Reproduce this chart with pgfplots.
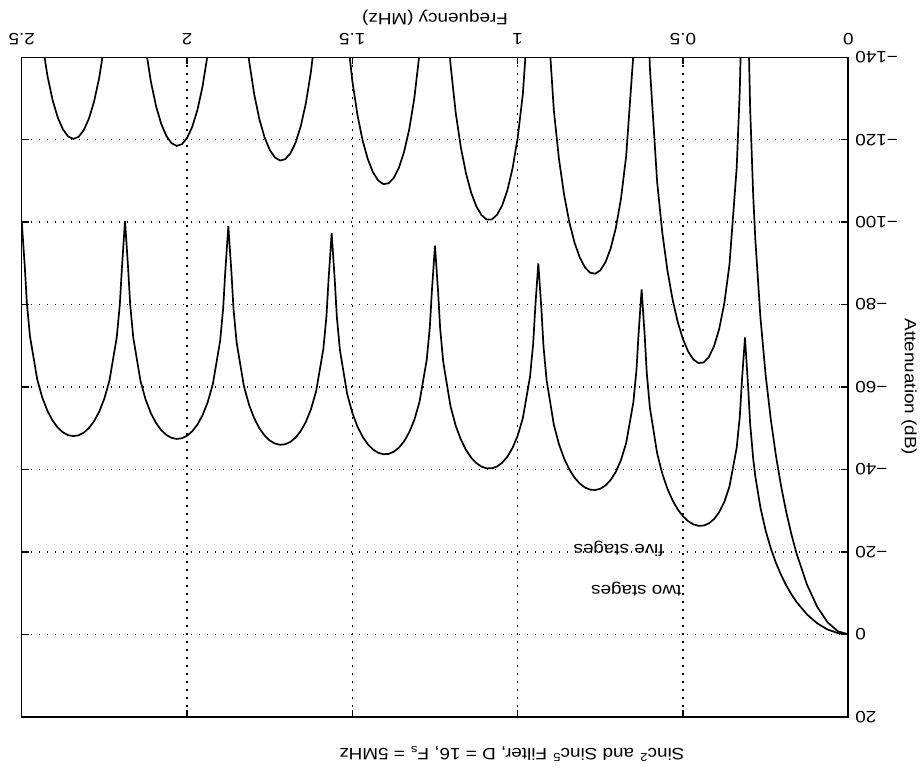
\documentclass[border=0pt]{standalone}
\usepackage{fontspec}
\setmainfont{Liberation Sans}[FakeStretch=1.15]
\usepackage{pgfplots}
\pgfplotsset{compat=1.18}
\usepackage{pgfplotstable}

% two-stage (sinc^2) response, frequency in MHz, attenuation in dB
\pgfplotstableread{
f db
0 0
0.03125 -0.29
0.0625 -1.15
0.09375 -2.64
0.125 -4.82
0.15625 -7.82
0.171875 -9.68
0.1875 -11.84
0.203125 -14.36
0.21875 -17.32
0.234375 -20.85
0.25 -25.17
0.265625 -30.70
0.28125 -38.37
0.2875 -42.52
0.296875 -51.12
0.303125 -60.31
0.3125 -72.0
0.321875 -61.33
0.328125 -52.84
0.3375 -45.27
0.359375 -35.88
0.375 -32.12
0.390625 -29.61
0.40625 -27.94
0.421875 -26.90
0.4375 -26.38
0.453125 -26.32
0.46875 -26.68
0.484375 -27.45
0.5 -28.64
0.515625 -30.28
0.53125 -32.46
0.546875 -35.28
0.5625 -38.97
0.578125 -43.91
0.6 -54.98
0.609375 -63.29
0.615625 -72.28
0.625 -83.7
0.634375 -72.78
0.640625 -64.11
0.65 -56.30
0.671875 -46.38
0.6875 -42.27
0.703125 -39.42
0.71875 -37.44
0.734375 -36.11
0.75 -35.32
0.765625 -34.99
0.78125 -35.10
0.796875 -35.63
0.8125 -36.60
0.828125 -38.03
0.84375 -40.00
0.859375 -42.63
0.875 -46.12
0.890625 -50.88
0.9125 -61.71
0.921875 -69.92
0.928125 -78.85
0.9375 -90.0
0.946875 -79.16
0.953125 -70.43
0.9625 -62.53
0.984375 -52.41
1.0 -48.16
1.015625 -45.19
1.03125 -43.07
1.046875 -41.62
1.0625 -40.71
1.078125 -40.27
1.09375 -40.26
1.109375 -40.68
1.125 -41.54
1.140625 -42.87
1.15625 -44.74
1.171875 -47.27
1.1875 -50.66
1.203125 -55.34
1.225 -66.04
1.234375 -74.20
1.240625 -83.10
1.25 -94.3
1.259375 -83.30
1.265625 -74.54
1.275 -66.59
1.296875 -56.36
1.3125 -52.03
1.328125 -48.98
1.34375 -46.79
1.359375 -45.26
1.375 -44.28
1.390625 -43.77
1.40625 -43.69
1.421875 -44.05
1.4375 -44.84
1.453125 -46.10
1.46875 -47.91
1.484375 -50.38
1.5 -53.71
1.515625 -58.32
1.5375 -68.95
1.546875 -77.07
1.553125 -85.94
1.5625 -97.3
1.571875 -86.08
1.578125 -77.30
1.5875 -69.31
1.609375 -59.01
1.625 -54.62
1.640625 -51.52
1.65625 -49.28
1.671875 -47.70
1.6875 -46.67
1.703125 -46.11
1.71875 -45.98
1.734375 -46.29
1.75 -47.03
1.765625 -48.25
1.78125 -50.01
1.796875 -52.43
1.8125 -55.72
1.828125 -60.29
1.85 -70.85
1.859375 -78.94
1.865625 -87.80
1.875 -99.0
1.884375 -87.89
1.890625 -79.09
1.9 -71.07
1.921875 -60.71
1.9375 -56.29
1.953125 -53.14
1.96875 -50.86
1.984375 -49.24
2.0 -48.16
2.015625 -47.56
2.03125 -47.40
2.046875 -47.67
2.0625 -48.37
2.078125 -49.55
2.09375 -51.27
2.109375 -53.66
2.125 -56.91
2.140625 -61.44
2.1625 -71.95
2.171875 -80.02
2.178125 -88.86
2.1875 -100.3
2.196875 -88.90
2.203125 -80.09
2.2125 -72.05
2.234375 -61.64
2.25 -57.18
2.265625 -54.00
2.28125 -51.68
2.296875 -50.03
2.3125 -48.91
2.328125 -48.28
2.34375 -48.08
2.359375 -48.31
2.375 -48.98
2.390625 -50.13
2.40625 -51.82
2.421875 -54.16
2.4375 -57.38
2.453125 -61.88
2.475 -72.34
2.484375 -80.39
2.490625 -89.22
2.5 -100.3
}\twostage

% five-stage (sinc^5) response; the notches run off the top of the axis
\pgfplotstableread{
f db
0 0
0.03125 -0.71
0.0625 -2.89
0.09375 -6.61
0.125 -12.06
0.15625 -19.54
0.171875 -24.20
0.1875 -29.61
0.203125 -35.90
0.21875 -43.30
0.234375 -52.12
0.25 -62.92
0.265625 -76.75
0.28125 -95.91
0.2875 -106.29
0.296875 -127.80
0.303125 -150.77
0.321875 -153.3
0.328125 -132.1
0.3375 -113.2
0.359375 -89.71
0.375 -80.31
0.390625 -74.02
0.40625 -69.85
0.421875 -67.25
0.4375 -65.96
0.453125 -65.80
0.46875 -66.70
0.484375 -68.62
0.5 -71.60
0.515625 -75.71
0.53125 -81.16
0.546875 -88.21
0.5625 -97.42
0.578125 -109.77
0.6 -137.4
0.609375 -158.2
0.615625 -180.7
0.634375 -181.9
0.640625 -160.3
0.65 -140.7
0.671875 -115.96
0.6875 -105.68
0.703125 -98.56
0.71875 -93.61
0.734375 -90.28
0.75 -88.30
0.765625 -87.49
0.78125 -87.75
0.796875 -89.08
0.8125 -91.49
0.828125 -95.07
0.84375 -100.01
0.859375 -106.57
0.875 -115.30
0.890625 -127.2
0.9125 -154.3
0.921875 -174.8
0.928125 -197.1
0.946875 -197.9
0.953125 -176.1
0.9625 -156.3
0.984375 -131.0
1.0 -120.41
1.015625 -112.97
1.03125 -107.69
1.046875 -104.05
1.0625 -101.77
1.078125 -100.67
1.09375 -100.65
1.109375 -101.71
1.125 -103.85
1.140625 -107.17
1.15625 -111.85
1.171875 -118.17
1.1875 -126.66
1.203125 -138.34
1.225 -165.1
1.234375 -185.5
1.240625 -207.7
1.259375 -208.3
1.265625 -186.4
1.275 -166.5
1.296875 -140.9
1.3125 -130.08
1.328125 -122.44
1.34375 -116.98
1.359375 -113.16
1.375 -110.70
1.390625 -109.42
1.40625 -109.23
1.421875 -110.12
1.4375 -112.10
1.453125 -115.26
1.46875 -119.78
1.484375 -125.95
1.5 -134.28
1.515625 -145.8
1.5375 -172.4
1.546875 -192.7
1.553125 -214.9
1.571875 -215.2
1.578125 -193.2
1.5875 -173.3
1.609375 -147.5
1.625 -136.56
1.640625 -128.80
1.65625 -123.20
1.671875 -119.26
1.6875 -116.67
1.703125 -115.27
1.71875 -114.96
1.734375 -115.72
1.75 -117.58
1.765625 -120.63
1.78125 -125.03
1.796875 -131.08
1.8125 -139.30
1.828125 -150.7
1.85 -177.1
1.859375 -197.4
1.865625 -219.5
1.884375 -219.7
1.890625 -197.7
1.9 -177.7
1.921875 -151.8
1.9375 -140.72
1.953125 -132.85
1.96875 -127.15
1.984375 -123.10
2.0 -120.41
2.015625 -118.91
2.03125 -118.50
2.046875 -119.17
2.0625 -120.93
2.078125 -123.88
2.09375 -128.19
2.109375 -134.14
2.125 -142.27
2.140625 -153.6
2.1625 -179.9
2.171875 -200.1
2.178125 -222.2
2.196875 -222.3
2.203125 -200.2
2.2125 -180.1
2.234375 -154.1
2.25 -142.95
2.265625 -134.99
2.28125 -129.21
2.296875 -125.07
2.3125 -122.29
2.328125 -120.69
2.34375 -120.20
2.359375 -120.78
2.375 -122.46
2.390625 -125.32
2.40625 -129.54
2.421875 -135.41
2.4375 -143.46
2.453125 -154.7
2.475 -180.8
2.484375 -201.0
2.490625 -223.0
}\fivestage

\newcommand{\lbl}{\fontsize{8.2}{9.8}\selectfont}

\begin{document}
\begin{tikzpicture}
\begin{axis}[
 name=ax, scale only axis, width=413.3pt, height=329.7pt,
 x dir=reverse, y dir=reverse,
 xmin=0, xmax=2.5, ymin=-140, ymax=20,
 xtick={0,0.5,1,1.5,2,2.5}, xticklabels={0,0.5,1,1.5,2,2.5},
 ytick={-140,-120,-100,-80,-60,-40,-20,0,20},
 yticklabels={−140,−120,−100,−80,−60,−40,−20,0,20},
 xticklabel pos=upper, yticklabel pos=upper,
 tick align=inside, major tick length=3.5pt,
 tick style={black, line width=0.7pt},
 axis line style={black, line width=0.8pt},
 grid=major, grid style={black, line width=0.7pt, dash pattern=on 0.7pt off 3.3pt},
 x tick label style={font=\lbl, rotate=180, anchor=north, inner sep=0pt},
 y tick label style={font=\lbl, rotate=180, anchor=east, inner sep=0pt},
 xticklabel shift=6.15pt, yticklabel shift=3.35pt,
 every axis x label/.style={at={(axis description cs:0.5,1)}, anchor=base, yshift=22pt, rotate=180, font=\lbl},
 every axis y label/.style={at={(axis description cs:1,0.5)}, anchor=base, xshift=28.3pt, rotate=-90, font=\lbl},
 every axis title/.style={at={(axis description cs:0.593,0)}, anchor=base, yshift=-15.8pt, rotate=180, font=\lbl},
 xlabel={Frequency (MHz)}, ylabel={Attenuation (dB)},
 title={Sinc\textsuperscript{2} and Sinc\textsuperscript{5} Filter, D = 16, F\textsubscript{s} = 5MHz},
]
\addplot[black, line width=0.85pt] table[x=f, y=db] {\twostage};
\addplot[black, line width=0.85pt] table[x=f, y=db] {\fivestage};
\node[font=\lbl, rotate=180, anchor=base west, inner sep=0pt] at (axis cs:0.504,-11.8) {two stages};
\node[font=\lbl, rotate=180, anchor=base west, inner sep=0pt] at (axis cs:0.557,-21.7) {five stages};
\end{axis}
\pgfresetboundingbox
\path (ax.south west) ++(-10.85pt,-26.65pt) rectangle ([shift={(36.85pt,28.65pt)}]ax.north east);
\end{tikzpicture}
\end{document}
